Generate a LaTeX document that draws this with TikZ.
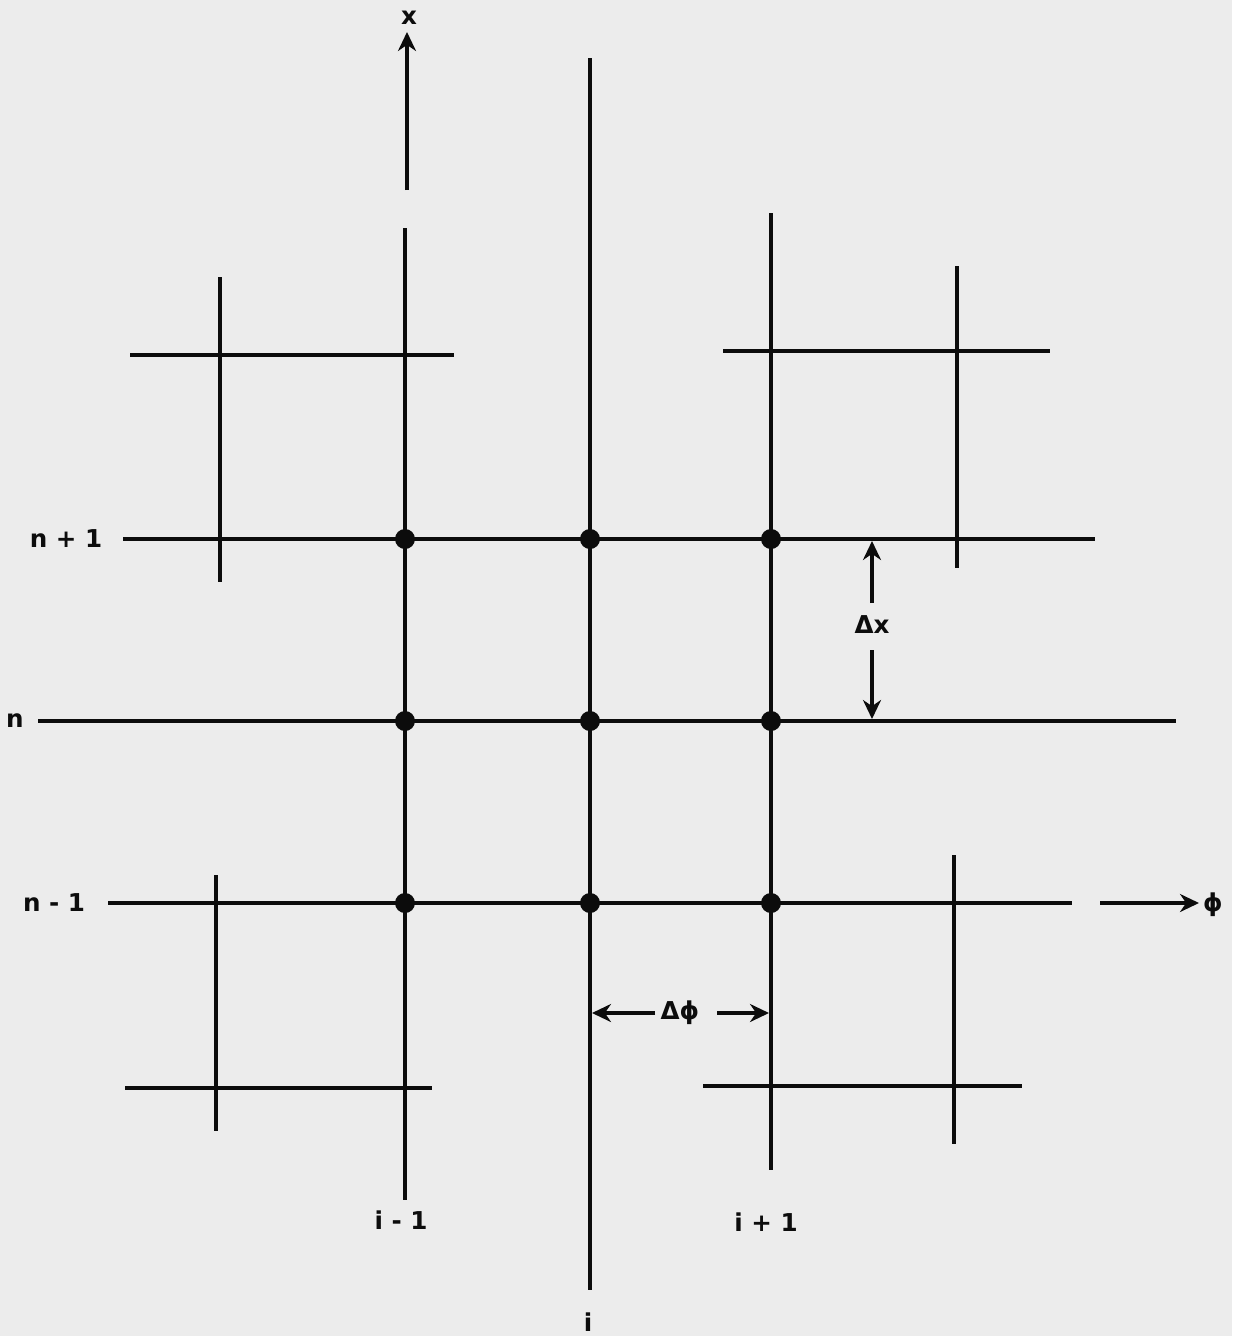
\documentclass[tikz,border=0pt]{standalone}
\usepackage{fontspec}
\setmainfont{DejaVu Sans}
\usetikzlibrary{arrows.meta}
\definecolor{paper}{RGB}{236,236,236}
\definecolor{ink}{RGB}{12,12,12}

\begin{document}
\begin{tikzpicture}[x=0.02cm, y=-0.02cm, >={Stealth[length=3.8mm,width=3.6mm]}]
\tikzset{
  ln/.style={draw=ink, line width=2.6pt},
  dot/.style={circle, fill=ink, inner sep=0pt, minimum size=0.4cm},
  lab/.style={font=\fontsize{14}{16}\selectfont\bfseries, text=ink, inner sep=1pt}
}
\fill[paper] (0,0) rectangle (1232,1336);
\useasboundingbox (0,0) rectangle (1232,1336);

% grid lines i-1, i, i+1
\draw[ln] (405,228) -- (405,1200);
\draw[ln] (590,58) -- (590,1290);
\draw[ln] (771,213) -- (771,1170);
% grid lines n+1, n, n-1
\draw[ln] (123,539) -- (1095,539);
\draw[ln] (38,721) -- (1176,721);
\draw[ln] (108,903) -- (1072,903);

% corner crosses
\draw[ln] (130,355) -- (454,355) (220,277) -- (220,582);
\draw[ln] (723,351) -- (1050,351) (957,266) -- (957,568);
\draw[ln] (125,1088) -- (432,1088) (216,875) -- (216,1131);
\draw[ln] (703,1086) -- (1022,1086) (954,855) -- (954,1144);

% mesh points
\foreach \c/\xx in {m/405, c/590, p/771}
  \foreach \r/\yy in {p/539, c/721, m/903}
    \node[dot] (d\c\r) at (\xx,\yy) {};

% labels
\node[lab] (lnp) at (66,539) {n + 1};
\node[lab] (lnc) at (15,721) {n};
\node[lab] (lnm) at (54,903) {n - 1};
\node[lab] (lim) at (401,1220) {i - 1};
\node[lab] (lic) at (588,1322) {i};
\node[lab] (lip) at (766,1222) {i + 1};
\node[lab] (lx) at (409,18) {x};
\node[lab] (lphi) at (1213,905) {ϕ};
\node[lab] (ldx) at (872,625) {Δx};
\node[lab] (ldphi) at (680,1013) {Δϕ};

% axes
\coordinate (xb) at (407,190);
\coordinate (xt) at (407,32);
\draw[ln,->] (xb) -- (xt);
\coordinate (pb) at (1100,903);
\coordinate (pt) at (1199,903);
\draw[ln,->] (pb) -- (pt);

% spacings
\coordinate (dxa) at (872,603);
\coordinate (dxt) at (872,541);
\coordinate (dxb) at (872,650);
\coordinate (dxe) at (872,719);
\draw[ln,->] (dxa) -- (dxt);
\draw[ln,->] (dxb) -- (dxe);
\coordinate (dpa) at (655,1013);
\coordinate (dpt) at (592,1013);
\coordinate (dpb) at (717,1013);
\coordinate (dpe) at (769,1013);
\draw[ln,->] (dpa) -- (dpt);
\draw[ln,->] (dpb) -- (dpe);
\end{tikzpicture}
\end{document}
